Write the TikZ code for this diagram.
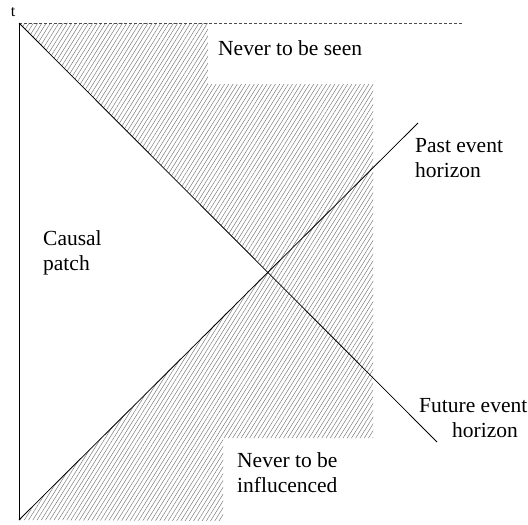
\documentclass[tikz,border=0pt]{standalone}
\usepackage{fontspec}
\setmainfont{Liberation Serif}
\newfontfamily\timesfont{Liberation Serif}
\usetikzlibrary{patterns.meta}
\tikzstyle{label_text} = [inner sep=0pt, font=\timesfont\fontsize{21.5}{24.5}\selectfont, align=left, anchor=base west]
\tikzstyle{axis_line} = [line width=0.9pt]
\tikzstyle{horizon_line} = [line width=0.8pt]
\tikzstyle{edge_dashed} = [line width=0.6pt, dash pattern=on 3pt off 2pt, black!70]
\tikzstyle{region_hatch} = [pattern={Lines[angle=58, distance=3.6pt, line width=0.45pt]}, pattern color=black!55]

\begin{document}
\begin{tikzpicture}[x=1pt, y=-1pt]
			\useasboundingbox (0,0) rectangle (528,525);
			\coordinate (top) at (19,23);
			\coordinate (bottom) at (19,520);
			\coordinate (X) at (267.5,271.5);
			\coordinate (F) at (437,442);
			\coordinate (P) at (418,123);
			\coordinate (R) at (462,23);
			
			\fill[region_hatch] (top) -- (208,23) -- (208,84) -- (373,84) -- (373,438) -- (223,438) -- (223,521) -- (bottom) -- (X) -- cycle;
			
			\node (t) at (13,16) [inner sep=0pt, anchor=base, scale=1.6, font=\timesfont] {t};
			\node (seen) at (218,55) [label_text] {Never to be seen};
			\node (past) at (415,177) [label_text] {Past event\\horizon};
			\node (causal) at (43,270) [label_text] {Causal\\patch};
			\node (future) at (419,437) [label_text] {Future event\\\hspace*{33pt}horizon};
			\node (influenced) at (237,492) [label_text] {Never to be\\influcenced};
			
			\draw[edge_dashed] (top)--(R);
			\draw[axis_line] (bottom)--(top);
			\draw[horizon_line] (top)--(F);
			\draw[horizon_line] (bottom)--(P);
		\end{tikzpicture}
\end{document}
